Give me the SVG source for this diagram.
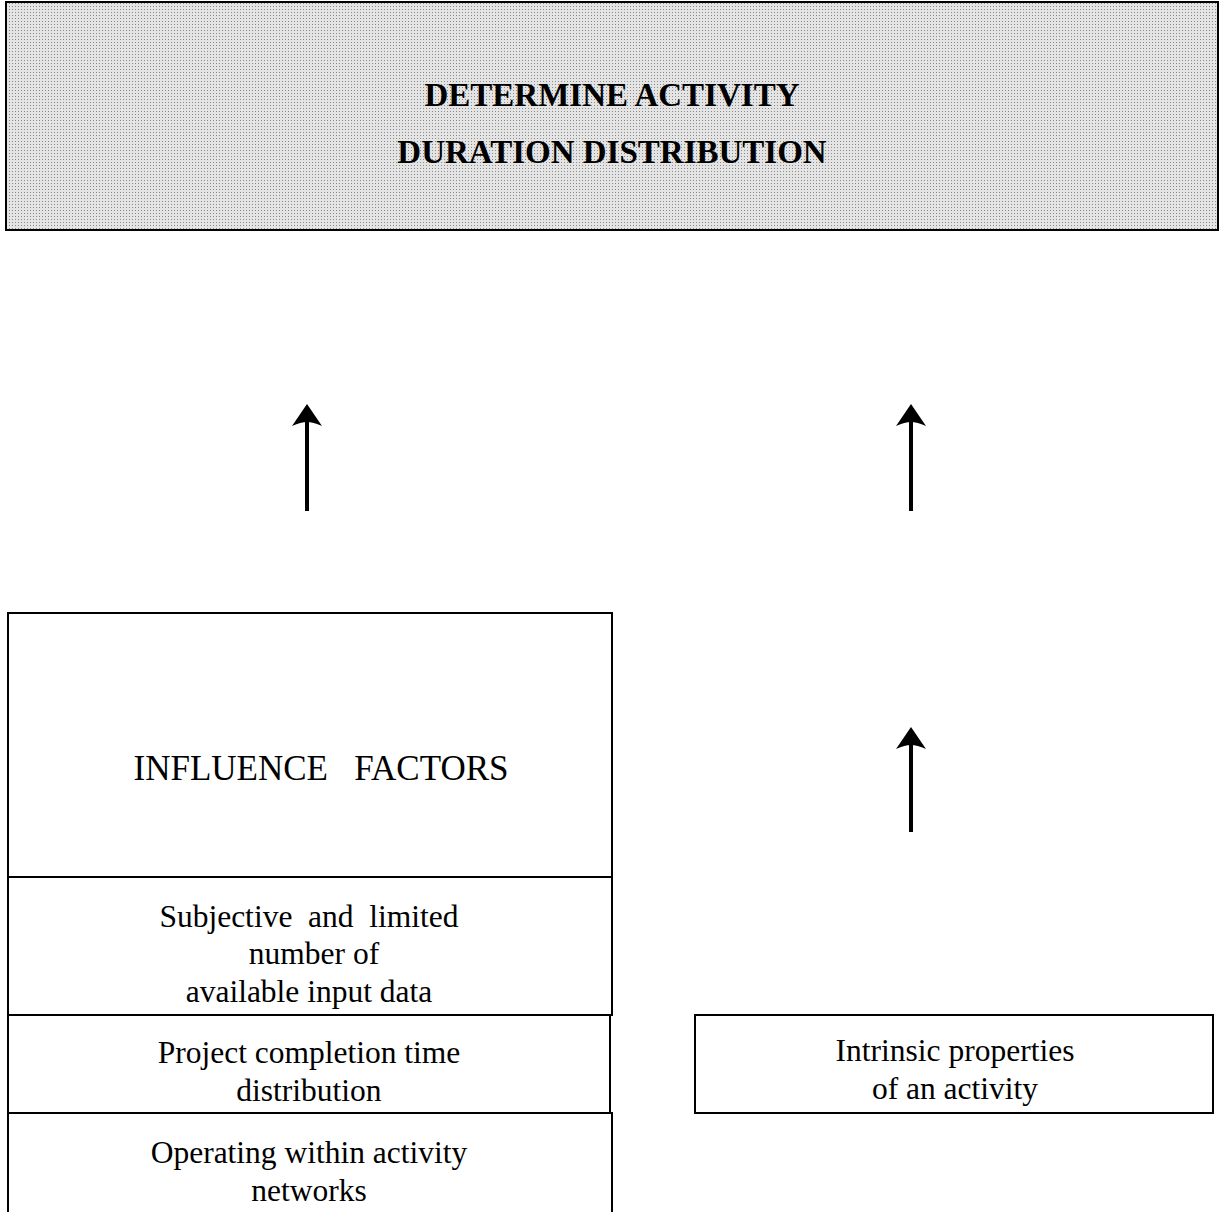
<svg xmlns="http://www.w3.org/2000/svg" width="1224" height="1212" viewBox="0 0 1224 1212">
<defs>
<pattern id="stip" width="3" height="3" patternUnits="userSpaceOnUse">
<rect width="3" height="3" fill="#e4e4e4"/>
<rect width="1" height="1" fill="#8a8a8a"/>
</pattern>
<marker id="ah" viewBox="0 0 24 30" refX="18" refY="15" markerWidth="24" markerHeight="30" markerUnits="userSpaceOnUse" orient="auto">
<path d="M24 15 L2 0 Q6 9 6 15 Q6 21 2 30 Z" fill="#000"/>
</marker>
</defs>
<style>
.box{fill:#fff;stroke:#000;stroke-width:2}
.t{font-family:"Liberation Serif",serif;fill:#000;text-anchor:middle}
.h{font-size:33px;font-weight:bold}
.big{font-size:35px;white-space:pre}
.m{font-size:31.5px;white-space:pre}
.conn line{stroke:#000;stroke-width:4}
</style>
<g id="top">
<rect x="6" y="2" width="1212" height="228" fill="url(#stip)" stroke="#000" stroke-width="2"/>
<text class="t h" x="612" y="106">DETERMINE  ACTIVITY</text>
<text class="t h" x="612" y="163">DURATION  DISTRIBUTION</text>
</g>
<g id="influence">
<rect class="box" x="8" y="613" width="604" height="264"/>
<text class="t big" x="321" y="780">INFLUENCE   FACTORS</text>
</g>
<g id="subjective">
<rect class="box" x="8" y="877" width="604" height="138"/>
<text class="t m" x="309" y="927">Subjective  and  limited</text>
<text class="t m" x="314" y="964">number of</text>
<text class="t m" x="309" y="1002">available input data</text>
</g>
<g id="project">
<rect class="box" x="8" y="1015" width="602" height="98"/>
<text class="t m" x="309" y="1063">Project completion time</text>
<text class="t m" x="309" y="1101">distribution</text>
</g>
<g id="operating">
<rect class="box" x="8" y="1113" width="604" height="110"/>
<text class="t m" x="309" y="1163">Operating within activity</text>
<text class="t m" x="309" y="1201">networks</text>
</g>
<g id="intrinsic">
<rect class="box" x="695" y="1015" width="518" height="98"/>
<text class="t m" x="955" y="1061">Intrinsic properties</text>
<text class="t m" x="955" y="1099">of an activity</text>
</g>
<g class="conn" id="connectors">
<line x1="307" y1="511" x2="307" y2="410" marker-end="url(#ah)"/>
<line x1="911" y1="511" x2="911" y2="410" marker-end="url(#ah)"/>
<line x1="911" y1="832" x2="911" y2="733" marker-end="url(#ah)"/>
</g>
</svg>
